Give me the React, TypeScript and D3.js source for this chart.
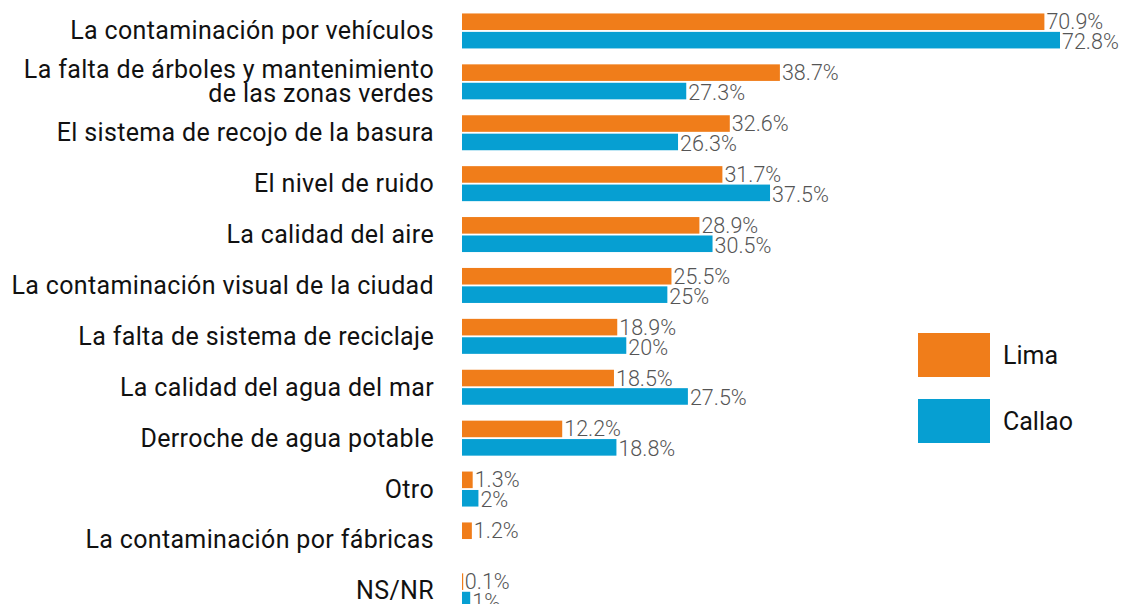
import React from "react";
import * as d3 from "d3";

const categories = [
  "La contaminación por vehículos",
  "La falta de árboles y mantenimiento|de las zonas verdes",
  "El sistema de recojo de la basura",
  "El nivel de ruido",
  "La calidad del aire",
  "La contaminación visual de la ciudad",
  "La falta de sistema de reciclaje",
  "La calidad del agua del mar",
  "Derroche de agua potable",
  "Otro",
  "La contaminación por fábricas",
  "NS/NR",
];
const seriesNames = ["Lima", "Callao"];
const lima: (number | null)[] = [70.9, 38.7, 32.6, 31.7, 28.9, 25.5, 18.9, 18.5, 12.2, 1.3, 1.2, 0.1];
const callao: (number | null)[] = [72.8, 27.3, 26.3, 37.5, 30.5, 25, 20, 27.5, 18.8, 2, null, 1];
const colors = ["#F07D1A", "#069FD2"];

const W = 1122;
const H = 604;

export default function App() {
  const x = d3.scaleLinear().domain([0, 72.8]).range([462, 1060]);
  const y = d3.scaleBand<string>().domain(categories).range([5.5, 5.5 + 12 * 50.9]).paddingInner(0);
  const values = [lima, callao];
  const fmt = (v: number) => `${v}%`;

  return (
    <div style={{ position: "absolute", left: 0, top: 0 }}>
      <svg width={W} height={H} style={{ display: "block", fontFamily: "Roboto, sans-serif" }}>
        <rect width={W} height={H} fill="#fff" />
        {categories.map((cat, i) => {
          const c = (y(cat) as number) + y.bandwidth() / 2;
          const inner = d3.scaleBand<string>().domain(seriesNames).range([c - 17.5, c + 17.5]).paddingInner(0.1);
          const lines = cat.split("|");
          return (
            <g key={cat}>
              {lines.map((ln, k) => (
                <text
                  key={k}
                  x={434}
                  y={c + (k - (lines.length - 1) / 2) * 24}
                  textAnchor="end"
                  dominantBaseline="central"
                  fontSize={25}
                  letterSpacing={0.35}
                  fill="#111"
                >
                  {ln}
                </text>
              ))}
              {seriesNames.map((s, j) => {
                const v = values[j][i];
                if (v == null) return null;
                const by = inner(s) as number;
                const bh = inner.bandwidth();
                return (
                  <g key={s}>
                    <rect x={x(0)} y={by} width={Math.max(x(v) - x(0), 1.2)} height={bh} fill={colors[j]} />
                    <text
                      x={x(v) + 2}
                      y={by + bh / 2 + (j === 0 ? 0 : 1.5)}
                      dominantBaseline="central"
                      fontSize={21.5}
                      fontWeight={300}
                      fill="#555"
                    >
                      {fmt(v)}
                    </text>
                  </g>
                );
              })}
            </g>
          );
        })}
        {seriesNames.map((s, j) => (
          <g key={s} transform={`translate(918, ${333 + j * 66})`}>
            <rect width={72} height={44} fill={colors[j]} />
            <text x={85} y={22} dominantBaseline="central" fontSize={25} fill="#111">
              {s}
            </text>
          </g>
        ))}
      </svg>
    </div>
  );
}
